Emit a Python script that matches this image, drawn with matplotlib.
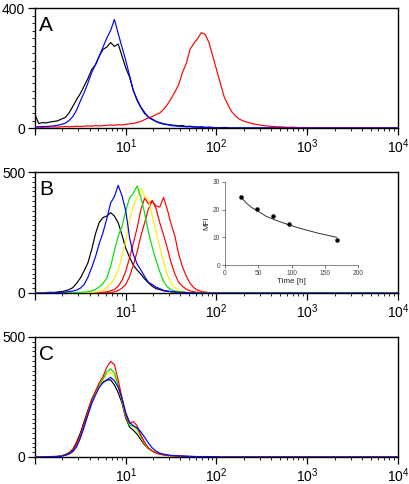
import numpy as np
import matplotlib
matplotlib.use("Agg")
import matplotlib.pyplot as plt
from matplotlib.ticker import FixedLocator, NullFormatter, MultipleLocator

plt.rcParams['font.family'] = ['Liberation Sans', 'DejaVu Sans']
plt.rcParams['mathtext.fontset'] = 'custom'
plt.rcParams['mathtext.rm'] = 'Liberation Sans'
plt.rcParams['mathtext.it'] = 'Liberation Sans'

# ---- histogram data: counts per channel (channels spaced 1/24 decade from 10^0) ----
CH_PER_DECADE = 24
N_CH = 4 * CH_PER_DECADE + 1

A_black = [45, 15, 18, 17, 20, 22, 24, 30, 35, 50, 72, 95, 115, 140, 165, 195, 210, 240, 262, 270,
           285, 272, 280, 240, 200, 170, 125, 92, 68, 48, 37, 30, 22, 18, 14, 12, 10, 9, 7, 8,
           5, 6, 4, 3, 4, 2, 3, 2, 1, 1, 2, 1]
A_red = [2, 3, 2, 3, 3, 4, 3, 4, 5, 4, 5, 6, 5, 6, 7, 6, 8, 7, 8, 9,
         10, 9, 11, 10, 12, 14, 15, 18, 22, 28, 34, 38, 45, 50, 62, 78, 98, 120, 145, 185,
         215, 262, 282, 298, 318, 312, 285, 240, 195, 150, 105, 78, 55, 40, 30, 24, 20, 16, 13, 11,
         9, 7, 6, 5, 4, 4, 3, 2, 3, 2, 1, 2, 1]
A_blue = [3, 4, 5, 5, 6, 7, 9, 12, 16, 25, 38, 60, 90, 118, 150, 185, 212, 240, 270, 300,
          325, 362, 315, 270, 225, 175, 125, 95, 70, 52, 35, 28, 22, 16, 13, 11, 8, 7, 6, 5,
          4, 4, 3, 3, 2, 2, 2, 1, 1]

B_black = [0, 0, 1, 2, 3, 2, 4, 6, 9, 14, 22, 40, 62, 92, 125, 180, 245, 292, 312, 318,
           332, 318, 290, 240, 185, 148, 115, 95, 78, 58, 42, 28, 18, 14, 9, 7, 5, 4, 3, 2,
           2, 1]
B_red2 = [0, 0, 0, 0, 0, 0, 0, 0, 0, 0, 0, 0, 0, 0, 0, 0, 0, 0, 0, 1,
          2, 5, 10, 20, 35, 68, 115, 170, 235, 290, 348, 380, 360, 355, 395, 345, 285, 235, 160, 108,
          70, 40, 22, 12, 6, 4, 2, 1, 1, 1]
B_red1 = [0, 0, 0, 0, 0, 0, 0, 0, 0, 0, 0, 0, 0, 0, 0, 1, 1, 2, 3, 5,
          9, 15, 28, 52, 90, 145, 205, 268, 345, 392, 368, 382, 350, 290, 240, 185, 125, 78, 44, 28,
          16, 9, 5, 3, 2, 1]
B_yellow = [0, 0, 0, 0, 0, 0, 0, 0, 0, 0, 1, 1, 1, 2, 2, 3, 4, 6, 12, 22,
            38, 60, 95, 150, 215, 300, 360, 395, 432, 400, 385, 320, 255, 190, 130, 75, 40, 22, 10, 6,
            3, 2, 1]
B_green = [0, 0, 0, 0, 0, 0, 0, 0, 1, 1, 2, 2, 3, 4, 5, 8, 15, 25, 40, 62,
           110, 175, 235, 275, 340, 392, 412, 442, 395, 330, 252, 190, 135, 88, 48, 25, 14, 8, 5, 3,
           2, 1]
B_blue = [0, 0, 0, 1, 1, 2, 2, 3, 4, 6, 8, 12, 20, 35, 65, 105, 150, 205, 250, 308,
          372, 398, 445, 402, 340, 230, 160, 120, 95, 68, 44, 35, 24, 18, 11, 8, 6, 5, 3, 3,
          2, 1, 1]

C_black = [0, 1, 0, 1, 2, 2, 3, 5, 10, 18, 32, 62, 100, 148, 195, 240, 272, 298, 312, 320,
           322, 300, 268, 225, 162, 125, 112, 95, 72, 50, 35, 24, 17, 12, 9, 7, 5, 4, 4, 3,
           3, 2, 2, 1, 2, 1, 1, 1]
C_red = [0, 0, 1, 0, 1, 2, 2, 4, 8, 15, 28, 55, 92, 140, 190, 238, 275, 310, 335, 375,
         398, 385, 320, 248, 175, 140, 148, 130, 92, 60, 38, 26, 17, 12, 9, 6, 5, 4, 3, 3,
         2, 2, 1, 1, 1]
C_green = [0, 0, 0, 1, 1, 1, 2, 4, 8, 14, 26, 50, 88, 135, 185, 232, 270, 300, 325, 355,
           368, 350, 300, 240, 170, 132, 130, 118, 85, 58, 38, 25, 18, 12, 9, 6, 5, 4, 3, 2,
           2, 1]
C_yellow = [0, 0, 0, 0, 1, 1, 2, 3, 7, 13, 25, 48, 85, 132, 182, 230, 265, 295, 320, 345,
            352, 338, 295, 238, 172, 135, 126, 112, 82, 55, 36, 24, 17, 12, 8, 6, 4, 3, 3, 2,
            1]
C_blue = [0, 0, 0, 1, 1, 1, 2, 3, 7, 12, 22, 42, 78, 125, 175, 222, 258, 290, 310, 322,
          332, 318, 290, 245, 185, 145, 130, 122, 105, 82, 58, 38, 25, 16, 12, 9, 7, 5, 5, 4,
          3, 3, 2, 2, 1, 2, 1, 1, 1]

# ---- inset data ----
inset_time = [24, 48, 72, 96, 168]
inset_mfi = [24.6, 20.4, 17.8, 14.8, 9.2]
fit_time = [24, 32, 40, 50, 62, 75, 90, 112, 140, 168]
fit_mfi = [24.6, 22.4, 20.8, 19.4, 17.6, 16.3, 15.0, 13.3, 11.5, 10.0]

panels = [
    ("A", 400, [(A_black, 'black'), (A_red, '#ff0000'), (A_blue, '#0000ff')]),
    ("B", 500, [(B_black, 'black'), (B_red2, '#ff0000'), (B_red1, '#ff0000'),
                (B_yellow, '#ffee00'), (B_green, '#00e000'), (B_blue, '#0000ff')]),
    ("C", 500, [(C_black, 'black'), (C_yellow, '#ffee00'), (C_green, '#00e000'),
                (C_red, '#ff0000'), (C_blue, '#0000ff')]),
]

x = 10 ** (np.arange(N_CH) / CH_PER_DECADE)

fig = plt.figure(figsize=(4.10, 4.84), dpi=100)
rects = [
    [35 / 410, 1 - 128 / 484, 363 / 410, 120 / 484],
    [35 / 410, 1 - 293 / 484, 363 / 410, 121 / 484],
    [35 / 410, 1 - 457 / 484, 363 / 410, 120 / 484],
]

minor_x = [m * 10 ** d for d in range(0, 4) for m in range(2, 10)]

for rect, (letter, ymax, series) in zip(rects, panels):
    ax = fig.add_axes(rect)
    for vals, col in series:
        y = np.zeros(N_CH)
        y[:len(vals)] = vals
        ax.plot(x, y, color=col, lw=0.85, zorder=3)
    ax.set_xscale('log')
    ax.set_xlim(1, 1e4)
    ax.set_ylim(0, ymax)
    ax.xaxis.set_major_locator(FixedLocator([1, 10, 100, 1000, 10000]))
    ax.set_xticklabels(['', r'$10^{1}$', r'$10^{2}$', r'$10^{3}$', r'$10^{4}$'])
    ax.xaxis.set_minor_locator(FixedLocator(minor_x))
    ax.xaxis.set_minor_formatter(NullFormatter())
    ax.yaxis.set_major_locator(FixedLocator([0, ymax]))
    ax.yaxis.set_minor_locator(MultipleLocator(25 if ymax == 400 else 20))
    ax.tick_params(axis='both', which='major', direction='out', length=5, width=0.9,
                   labelsize=10, pad=2)
    ax.tick_params(axis='both', which='minor', direction='out', length=2.5, width=0.6)
    ax.tick_params(axis='x', which='major', pad=1.5)
    for s in ax.spines.values():
        s.set_linewidth(1.0)
    ax.text(0.012, 0.93, letter, transform=ax.transAxes, fontsize=15,
            va='top', ha='left')

# inset
axi = fig.add_axes([225 / 410, 1 - 265 / 484, 133 / 410, 83 / 484])
axi.plot(fit_time, fit_mfi, color='#333333', lw=0.7)
axi.plot(inset_time, inset_mfi, 'o', color='black', ms=2.2)
axi.set_xlim(0, 200)
axi.set_ylim(0, 30)
axi.set_xticks([0, 50, 100, 150, 200])
axi.set_yticks([0, 10, 20, 30])
for side in ('top', 'right'):
    axi.spines[side].set_visible(False)
for side in ('left', 'bottom'):
    axi.spines[side].set_linewidth(0.5)
    axi.spines[side].set_color('#555555')
axi.tick_params(labelsize=4.8, length=2, width=0.5, pad=1.5, colors='#444444')
axi.set_xlabel('Time [h]', fontsize=5.8, labelpad=1, color='#222222')
axi.set_ylabel('MFI', fontsize=5.8, labelpad=2, color='#222222')
axi.patch.set_alpha(0)

fig.savefig('out.png', dpi=100)
